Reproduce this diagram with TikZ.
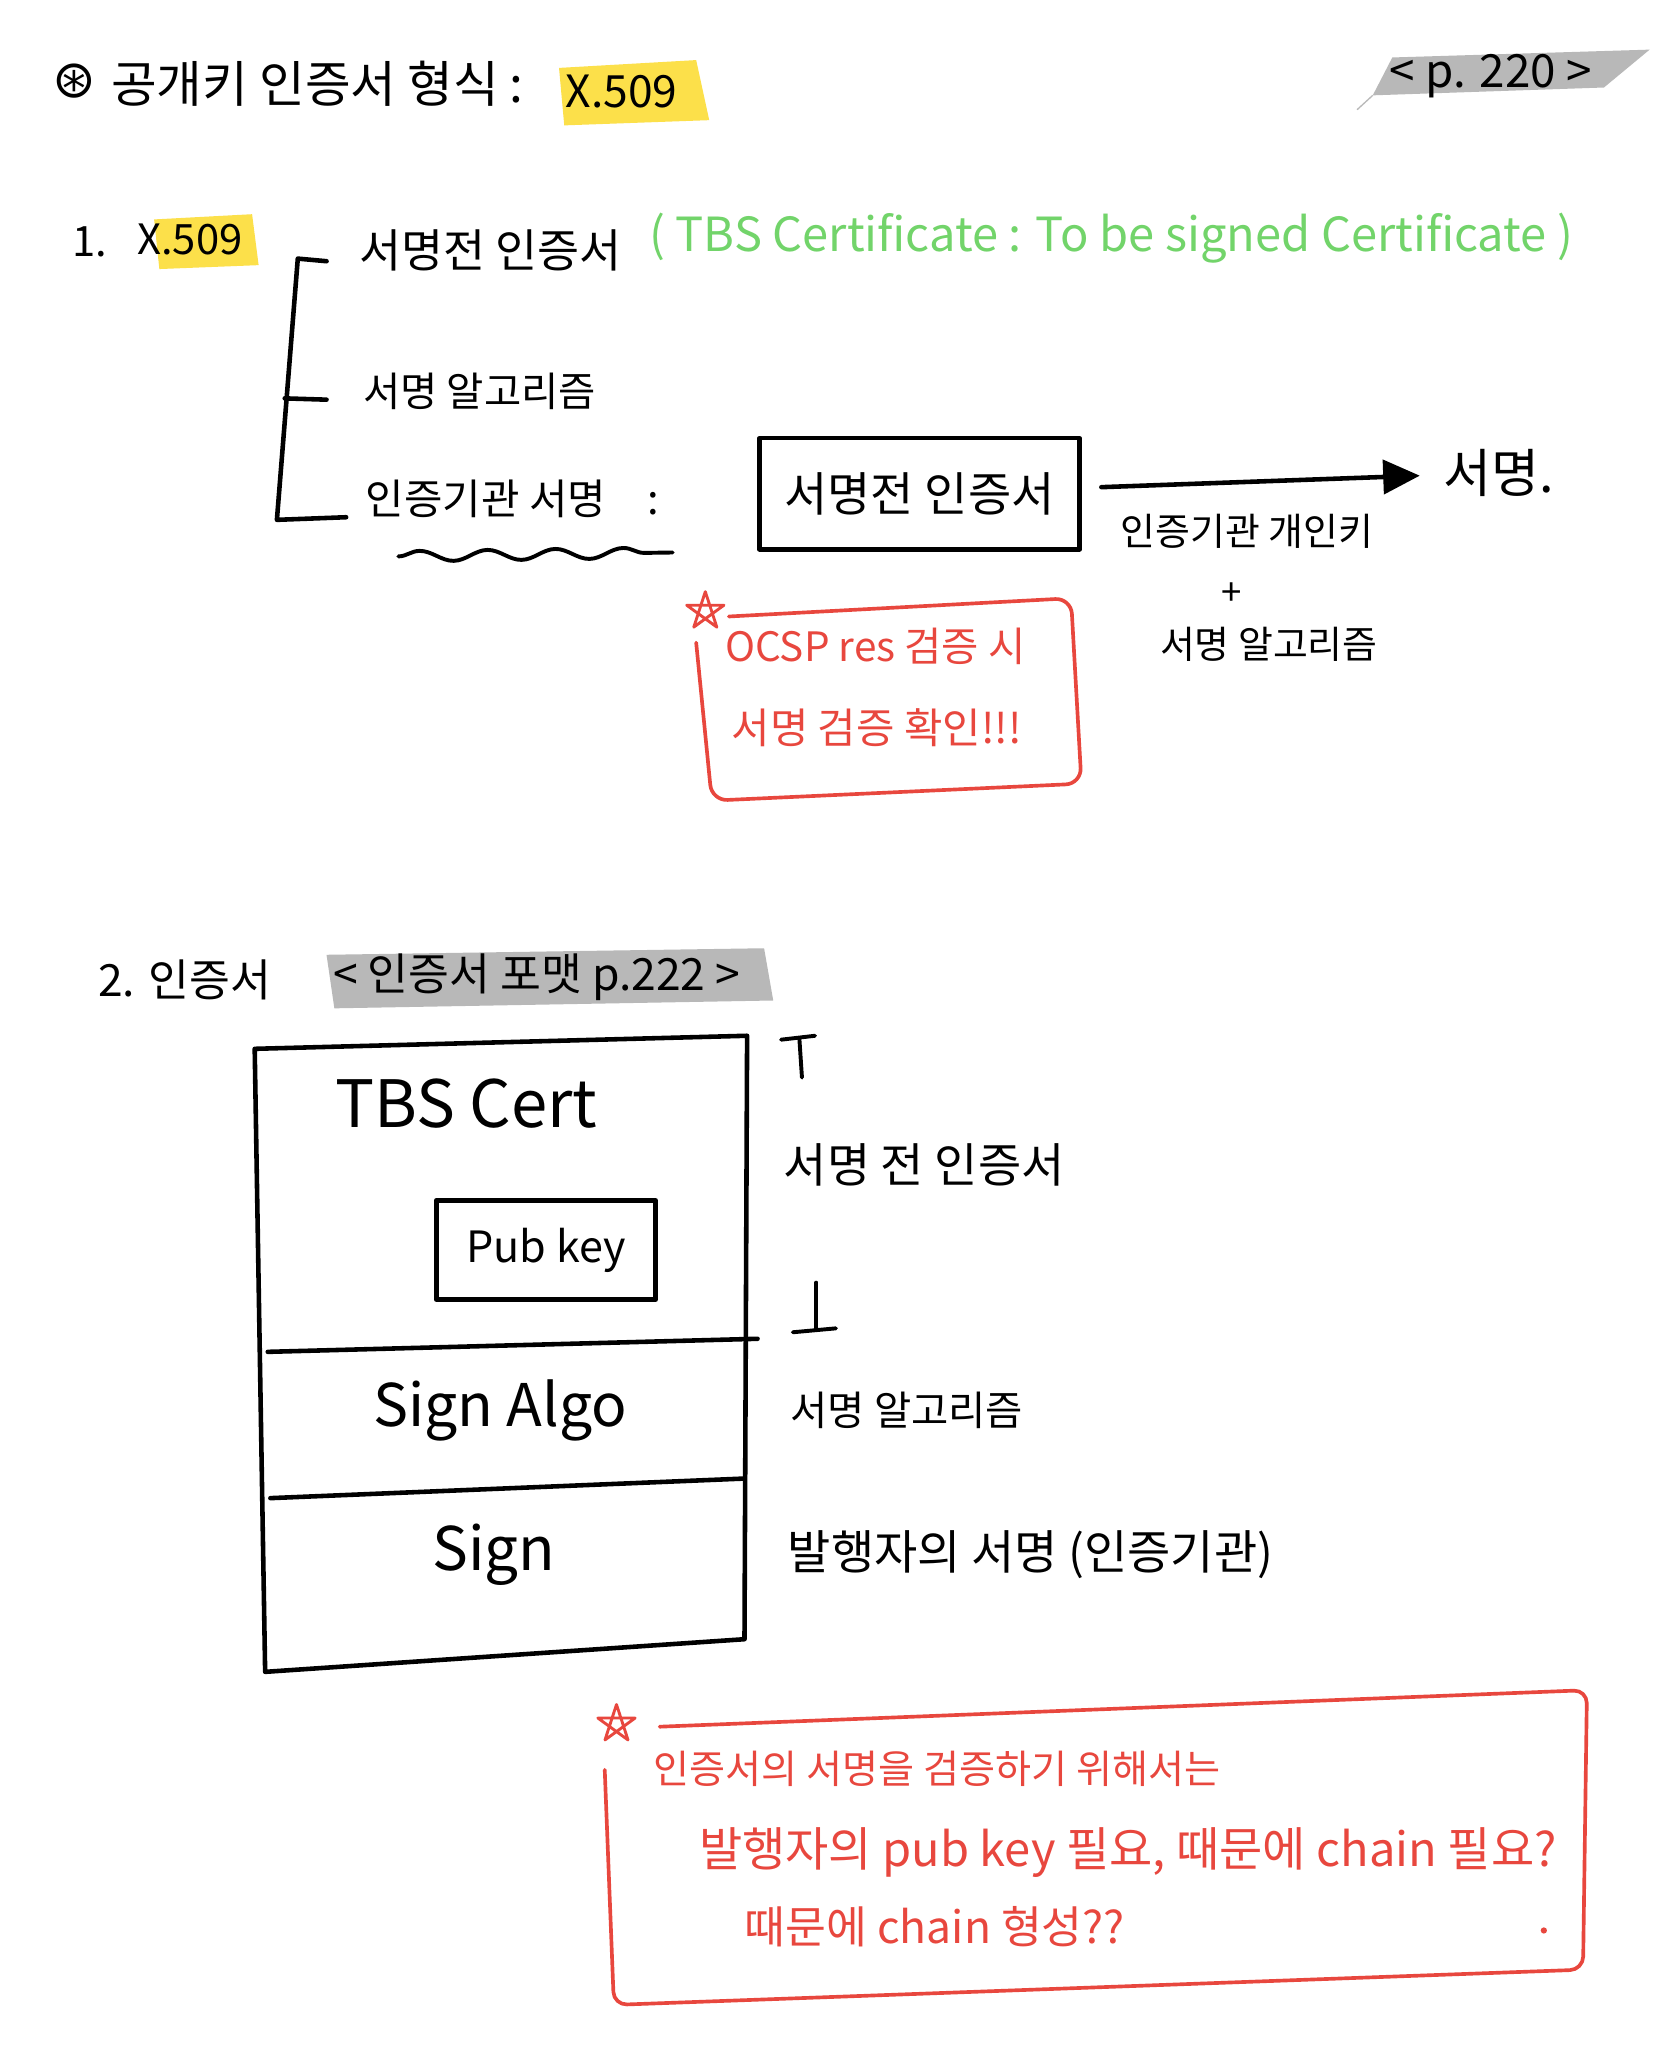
\documentclass[tikz,border=0pt]{standalone}
\usepackage{fontspec}
\newfontfamily\kr{Noto Sans CJK KR}
\newfontfamily\djv{DejaVu Sans}
\usetikzlibrary{arrows.meta,decorations.pathmorphing}
\definecolor{redc}{HTML}{E8473E}
\definecolor{greenc}{HTML}{72D46A}
\definecolor{yel}{HTML}{FCE04A}
\definecolor{grayc}{HTML}{B8B8B8}
\begin{document}
\begin{tikzpicture}[x=1pt,y=-1pt,
  txt/.style={font=\kr\fontsize{#1}{#1}\selectfont, inner sep=0pt, anchor=west},
  txt/.default=30,
  ink/.style={line width=3.5pt, line cap=round, line join=round},
  redink/.style={draw=redc, line width=2.8pt, line cap=round, line join=round},
  pstar/.style={redink, line width=2.2pt}]
\fill[white] (0,0) rectangle (1277,1568);
\useasboundingbox (0,0) rectangle (1277,1568);

% ---- title
\node[font=\djv\fontsize{40}{40}\selectfont, inner sep=0pt] (tstar) at (57,62) {⊛};
\fill[yel] (428,52) -- (533,46) -- (543,92) -- (432,96) -- cycle;
\node[txt=38] (title) at (85,64) {공개키 인증서 형식 :};
\node[txt=34] (tx) at (433,70) {X.509};
\fill[grayc] (1051,73) -- (1066,44) -- (1263,38) -- (1228,67) -- cycle;
\draw[grayc, line width=1pt] (1039,84) -- (1051,73);
\node[txt=35] (p220) at (1064,58) {< p. 220 >};

% ---- section 1
\fill[yel] (118,168) -- (193,164) -- (198,203) -- (122,206) -- cycle;
\node[txt=32] (n1) at (55,185) {1.};
\node[txt=32] (x509) at (105,183) {X.509};
\draw[ink] (250,200) -- (228,198) -- (212,398) -- (265,396);
\draw[ink] (218,305) -- (250,306);
\node[txt=35] (i1) at (275,192) {서명전 인증서};
\node[txt=36, text=greenc] (tbs) at (497,182) {( TBS Certificate : To be signed Certificate )};
\node[txt=31] (i2) at (278,300) {서명 알고리즘};
\node[txt=32] (i3) at (280,382) {인증기관 서명\quad :};
\draw[ink, line width=3pt, decorate, decoration={snake, segment length=52pt, amplitude=4pt}] (305,426) -- (515,423);
\node[draw, ink, minimum width=245pt, minimum height=85pt, txt=36, anchor=center] (cert) at (704,378) {서명전 인증서};
\node[txt=40] (sig) at (1105,362) {서명.};
\draw[ink, -{Triangle[length=28pt,width=26pt]}, shorten <=15pt, shorten >=18pt] (cert) -- (sig);
\node[txt=29] (ca) at (858,407) {인증기관 개인키};
\node[txt=28, anchor=center] (plus) at (943,455) {+};
\node[txt=29] (alg) at (888,493) {서명 알고리즘};

% red box 1
\draw[pstar] (540,468) +(-90:15) -- +(54:15) -- +(198:15) -- +(-18:15) -- +(126:15) -- cycle;
\draw[redink, rounded corners=12pt] (558,472) -- (820,458) -- (828,600) -- (545,613) -- (533,492);
\node[txt=31, text=redc] (o1) at (555,495) {OCSP res 검증 시};
\node[txt=32, text=redc] (o2) at (560,557) {서명 검증 확인!!!};

% ---- section 2
\node[txt=34] (n2) at (75,750) {2. 인증서};
\fill[grayc] (250,731) -- (585,726) -- (592,766) -- (256,772) -- cycle;
\node[txt=34] (fmt) at (255,748) {< 인증서 포맷 p.222 >};

\draw[ink] (195,803) -- (572,793) -- (570,1255) -- (203,1280) -- cycle;
\draw[ink] (205,1035) -- (580,1025);
\draw[ink] (207,1147) -- (570,1132);
\node[txt=50, anchor=center] (tbsc) at (357,845) {TBS Cert};
\node[draw, ink, minimum width=168pt, minimum height=76pt, txt=33, anchor=center] (pub) at (418,957) {Pub key};
\node[txt=45, anchor=center] (salgo) at (383,1080) {Sign Algo};
\node[txt=46, anchor=center] (sgn) at (378,1190) {Sign};

\draw[ink, line width=3pt] (598,796) -- (624,793);
\draw[ink, line width=3pt] (612,795) -- (614,825);
\draw[ink, line width=3pt] (625,982) -- (625,1018);
\draw[ink, line width=3pt] (607,1020) -- (640,1017);
\node[txt=36] (r1) at (600,892) {서명 전 인증서};
\node[txt=31] (r2) at (605,1080) {서명 알고리즘};
\node[txt=36] (r3) at (603,1190) {발행자의 서명 (인증기관)};

% red box 2
\draw[pstar] (472,1320) +(-90:15) -- +(54:15) -- +(198:15) -- +(-18:15) -- +(126:15) -- cycle;
\draw[redink, rounded corners=10pt] (505,1322) -- (1215,1294) -- (1212,1508) -- (470,1535) -- (463,1355);
\node[txt=30, text=redc] (q1) at (500,1354) {인증서의 서명을 검증하기 위해서는};
\node[txt=36, text=redc] (q2) at (535,1418) {발행자의 pub key 필요, 때문에 chain 필요?};
\node[txt=34, text=redc] (q3) at (570,1475) {때문에 chain 형성??};
\fill[redc] (1182,1478) circle (2.4pt);
\end{tikzpicture}
\end{document}
